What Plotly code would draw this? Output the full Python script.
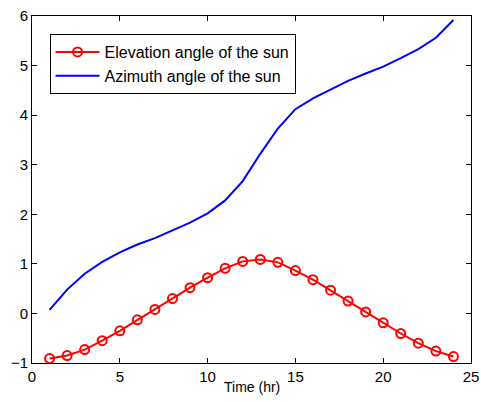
import plotly.graph_objects as go

hours = list(range(1, 25))
elevation = [-0.91, -0.85, -0.73, -0.55, -0.35, -0.13, 0.08, 0.30, 0.52, 0.72,
             0.91, 1.05, 1.09, 1.03, 0.865, 0.68, 0.47, 0.25, 0.03, -0.19,
             -0.405, -0.60, -0.76, -0.87]
azimuth = [0.07, 0.48, 0.80, 1.04, 1.23, 1.39, 1.52, 1.67, 1.83, 2.02,
           2.28, 2.67, 3.22, 3.73, 4.12, 4.34, 4.52, 4.69, 4.84, 4.98,
           5.15, 5.33, 5.56, 5.92]
x_ticks = [0, 5, 10, 15, 20, 25]
y_ticks = [-1, 0, 1, 2, 3, 4, 5, 6]
y_tick_text = ["\u22121", "0", "1", "2", "3", "4", "5", "6"]

FONT = "Liberation Sans, Arial, sans-serif"

fig = go.Figure()
fig.add_trace(go.Scatter(
    x=hours, y=elevation, mode="lines+markers", name="Elevation angle of the sun",
    line=dict(color="#ff0000", width=2),
    marker=dict(symbol="circle-open", size=9, color="#ff0000", line=dict(width=2, color="#ff0000")),
))
fig.add_trace(go.Scatter(
    x=hours, y=azimuth, mode="lines", name="Azimuth angle of the sun",
    line=dict(color="#0000ff", width=2),
))

axis_common = dict(
    showgrid=False, zeroline=False, showline=True, linecolor="black", linewidth=1,
    mirror="ticks", ticks="inside", ticklen=5, tickcolor="black", automargin=False,
    tickfont=dict(family=FONT, size=15, color="black"),
)
fig.update_xaxes(range=[0, 25], tickvals=x_ticks, ticklabelstandoff=0, **axis_common)
fig.update_yaxes(range=[-1, 6], tickvals=y_ticks, ticktext=y_tick_text, **axis_common)

fig.add_annotation(text="Time (hr)", xref="paper", yref="paper", x=0.5, y=-0.04,
                   xanchor="center", yanchor="top", showarrow=False,
                   font=dict(family=FONT, size=14, color="black"))

fig.update_layout(
    width=481, height=402,
    margin=dict(l=32, r=10, t=16, b=39),
    paper_bgcolor="white", plot_bgcolor="white",
    showlegend=True,
    legend=dict(x=0.04, y=0.948, xanchor="left", yanchor="top",
                bgcolor="white", bordercolor="black", borderwidth=1,
                font=dict(family=FONT, size=16, color="black"),
                tracegroupgap=0, itemwidth=44),
)

fig.write_html("out.html")
